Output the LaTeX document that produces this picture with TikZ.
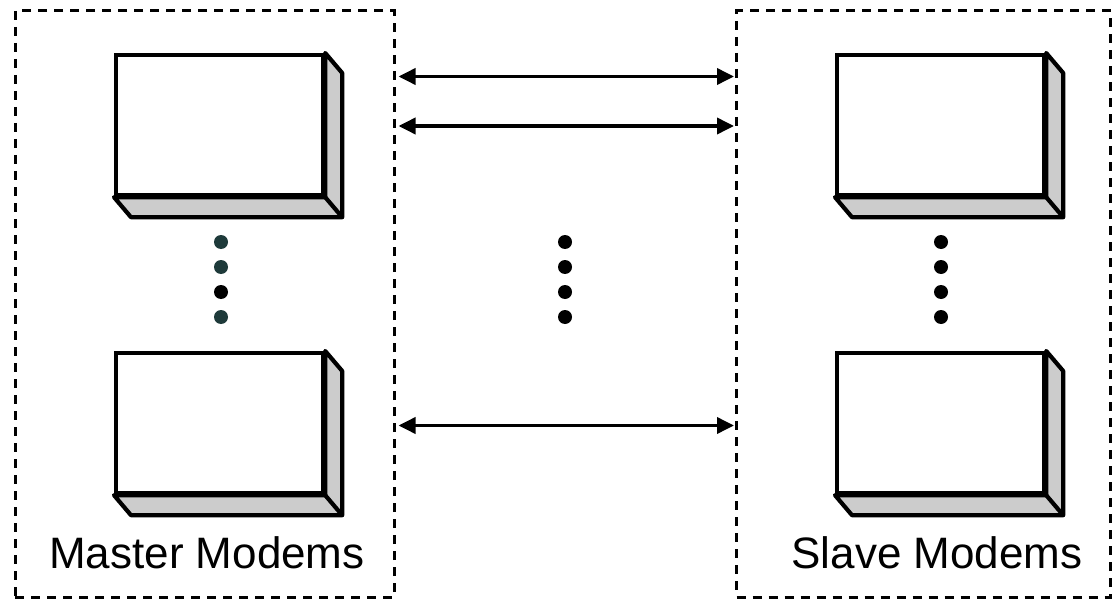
\documentclass[tikz,border=0pt]{standalone}
\usepackage{fontspec}
\setmainfont{Liberation Sans}
\usetikzlibrary{arrows.meta,calc}
\definecolor{shadegray}{HTML}{CCCCCC}
\definecolor{darkteal}{HTML}{1E3A3A}
\tikzset{
  group/.style={draw, line width=3pt, dash pattern=on 9pt off 7pt, inner sep=0pt},
  modem/.style={draw, fill=white, line width=4.2pt, inner sep=0pt, minimum width=207pt, minimum height=140pt, anchor=north west},
  depth/.style={draw, fill=shadegray, line width=4.2pt, line join=round},
  dotmark/.style={circle, fill=black, inner sep=0pt, minimum size=14pt},
  link/.style={line width=3.6pt, {Triangle[length=17pt,width=16pt]}-{Triangle[length=17pt,width=16pt]}},
  lbl/.style={font=\fontsize{44pt}{50pt}\selectfont, inner sep=0pt}
}
\newcommand{\modemdepth}[1]{%
  \draw[depth] (#1.south west) -- ++(17,20) -- ($(#1.south east)+(17,20)$) -- ($(#1.north east)+(17,20)$) -- (#1.north east) -- (#1.south east) -- cycle;
  \draw[line width=4.2pt] (#1.south east) -- ++(17,20);
}
\begin{document}
\begin{tikzpicture}[x=1pt,y=-1pt]
\useasboundingbox (0,0) rectangle (1114,599);
% groups
\node[group, minimum width=379pt, minimum height=586pt, anchor=north west] (master) at (13.5,9.5) {};
\node[group, minimum width=374pt, minimum height=586pt, anchor=north west] (slave) at (735,9.5) {};
% modems
\node[modem] (m1) at (114,53) {};
\node[modem] (m2) at (114,351) {};
\node[modem] (s1) at (835,53) {};
\node[modem] (s2) at (835,351) {};
\modemdepth{m1}
\modemdepth{m2}
\modemdepth{s1}
\modemdepth{s2}
% dots
\node[dotmark, fill=darkteal] (ld1) at (221,242) {};
\node[dotmark, fill=darkteal] (ld2) at (221,267) {};
\node[dotmark] (ld3) at (221,292) {};
\node[dotmark, fill=darkteal] (ld4) at (221,317) {};
\node[dotmark] (cd1) at (565,242) {};
\node[dotmark] (cd2) at (565,267) {};
\node[dotmark] (cd3) at (565,292) {};
\node[dotmark] (cd4) at (565,317) {};
\node[dotmark] (rd1) at (941,242) {};
\node[dotmark] (rd2) at (941,267) {};
\node[dotmark] (rd3) at (941,292) {};
\node[dotmark] (rd4) at (941,317) {};
% links
\draw[link, shorten <=3pt, shorten >=1pt] ($(master.north east)+(0,67)$) -- ($(slave.north west)+(0,67)$);
\draw[link, shorten <=3pt, shorten >=1pt] ($(master.north east)+(0,116.5)$) -- ($(slave.north west)+(0,116.5)$);
\draw[link, shorten <=3pt, shorten >=1pt] ($(master.north east)+(0,416)$) -- ($(slave.north west)+(0,416)$);
% labels
\node[lbl] (mlabel) at (207,553) {Master Modems};
\node[lbl] (slabel) at (937,553) {Slave Modems};
\end{tikzpicture}
\end{document}
